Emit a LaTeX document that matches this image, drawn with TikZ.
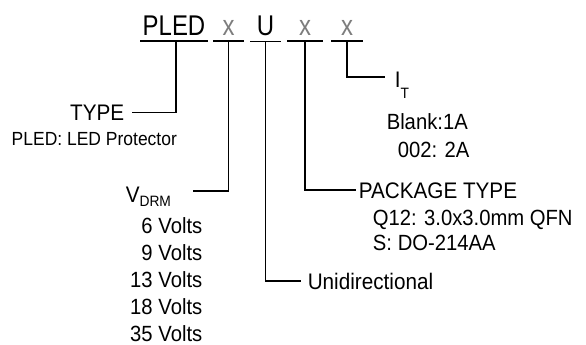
\documentclass[tikz,border=0pt]{standalone}
\usepackage{fontspec}
\setmainfont{Liberation Sans}
\newfontfamily\codefont[FakeStretch=0.84]{Liberation Sans}
\newfontfamily\bodyfont[FakeStretch=0.92]{Liberation Sans}
\definecolor{xgray}{RGB}{125,125,125}
\begin{document}
\begin{tikzpicture}[x=1pt,y=-1pt,line width=1.5pt,
  code/.style={font=\codefont\fontsize{28.5}{30}\selectfont, inner xsep=0pt, inner ysep=5pt, anchor=base},
  codex/.style={code, text=xgray},
  lbl/.style={font=\bodyfont\fontsize{22.5}{26}\selectfont, inner sep=0pt},
  item/.style={font=\bodyfont\fontsize{22}{26}\selectfont, inner sep=0pt},
  small/.style={font=\bodyfont\fontsize{19}{22}\selectfont, inner sep=0pt},
  conn/.style={line width=1.5pt}]
\useasboundingbox (0,0) rectangle (586,345);
% code letters
\node[code, minimum width=66pt] (pled) at (174,35.5) {PLED};
\node[codex, minimum width=29pt] (xa) at (228.5,35.5) {x};
\node[code, minimum width=29pt] (u) at (265.5,35.5) {U};
\node[codex, minimum width=34pt] (xb) at (305,35.5) {x};
\node[codex, minimum width=30pt] (xc) at (347,35.5) {x};
\foreach \n in {pled,xa,u,xb,xc}{\draw[conn] (\n.south west) -- (\n.south east);}
% TYPE
\node[lbl, anchor=base east] (type) at (125,120) {TYPE};
\node[small, anchor=base west] (pledp) at (11,145) {PLED: LED Protector};
\draw[conn] ([xshift=2pt]pled.south) |- ([xshift=7pt]type.east);
% VDRM
\node[lbl, anchor=base west] (vdrm) at (125,202) {V\raisebox{-4pt}{\fontsize{15}{17}\selectfont DRM}};
\coordinate (vend) at (193,191);
\draw[conn] (xa.south) |- (vend);
\node[item, anchor=base east] (v6) at (203,233) {6 Volts};
\node[item, anchor=base east] (v9) at (203,260.2) {9 Volts};
\node[item, anchor=base east] (v13) at (203,287.4) {13 Volts};
\node[item, anchor=base east] (v18) at (203,314.6) {18 Volts};
\node[item, anchor=base east] (v35) at (203,341.8) {35 Volts};
% Unidirectional
\coordinate (uend) at (301,281);
\draw[conn] (u.south) |- (uend);
\node[lbl, anchor=base west] (uni) at (307,289) {Unidirectional};
% Package type
\coordinate (pend) at (356,190);
\draw[conn] (xb.south) |- (pend);
\node[lbl, anchor=base west] (pkg) at (358,198) {PACKAGE TYPE};
\node[item, anchor=base west] (q12) at (372,225) {Q12: 3.0x3.0mm QFN};
\node[item, anchor=base west] (s) at (372,250) {S:\hspace{6pt}DO-214AA};
% IT
\coordinate (iend) at (385,77);
\draw[conn] (xc.south) |- (iend);
\node[lbl, anchor=base west] (it) at (394,87) {I\raisebox{-11pt}{\fontsize{15}{17}\selectfont T}};
\node[item, anchor=base west] (blank) at (386,129) {Blank:1A};
\node[item, anchor=base west] (two) at (397,157) {002: 2A};
\end{tikzpicture}
\end{document}
